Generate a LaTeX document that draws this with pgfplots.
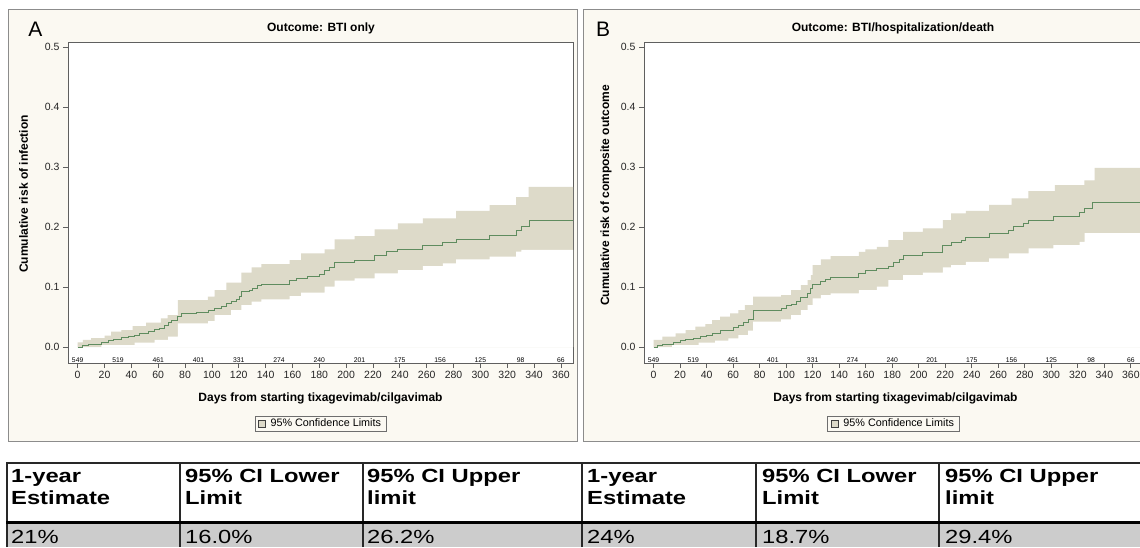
\documentclass[border=0pt]{standalone}
\usepackage{fontspec}
\setmainfont{Liberation Sans}
\newfontfamily\tabfont[FakeStretch=1.25]{Liberation Sans}
\usepackage{pgfplots}
\pgfplotsset{compat=1.18}
\definecolor{cream}{RGB}{251,249,242}
\definecolor{bandcol}{RGB}{221,218,201}
\definecolor{linecol}{RGB}{95,140,95}
\definecolor{axiscol}{RGB}{95,95,95}
\definecolor{framecol}{RGB}{140,140,140}
\definecolor{legcol}{RGB}{110,110,110}
\definecolor{tabgray}{RGB}{204,204,204}
\definecolor{tabline}{RGB}{40,40,40}
\newcommand\atriskfont{\fontsize{6.8}{7}\selectfont}
\pgfplotsset{
  kmaxis/.style={
    scale only axis, width=505pt, height=320.3pt,
    xmin=-7.2, xmax=369, ymin=-0.0267, ymax=0.5077,
    xtick={0,20,...,360}, ytick={0,0.1,0.2,0.3,0.4,0.5},
    tick align=outside, xtick pos=left, ytick pos=left,
    major tick length=5pt,
    axis line style={axiscol, line width=0.9pt},
    major tick style={axiscol, line width=0.8pt},
    tick label style={font=\fontsize{10.5}{12}\selectfont, text=black!85},
    /pgf/number format/assume math mode=true,
    yticklabel style={/pgf/number format/fixed, /pgf/number format/fixed zerofill, /pgf/number format/precision=1},
    xticklabel style={/pgf/number format/fixed},
    axis background/.style={fill=white},
    legend style={at={(0.5,-0.189)}, anchor=center, draw=legcol, fill=cream,
      font=\fontsize{10.8}{12}\selectfont, inner xsep=3pt, inner ysep=0.8pt, line width=0.8pt,
      /tikz/every odd column/.append style={column sep=3pt}},
    legend cell align=left,
  }
}
\begin{document}
\begin{tikzpicture}
\begin{scope}
\clip (0,0) rectangle (1140pt,547pt);
\fill[white] (0,0) rectangle (1140pt,547pt);
\draw[framecol, fill=cream, line width=1pt] (8pt,106pt) rectangle (577pt,537pt);
\draw[framecol, fill=cream, line width=1pt] (583pt,106pt) rectangle (1150pt,537pt);

\node[font=\fontsize{21}{24}\selectfont] at (35.5pt,517.5pt) {A};
\node[font=\fontsize{21}{24}\selectfont] at (603pt,517.5pt) {B};
\node[font=\bfseries\fontsize{12}{14}\selectfont] at (321pt,518.5pt) {Outcome: BTI only};
\node[font=\bfseries\fontsize{12}{14}\selectfont] at (893pt,518.5pt) {Outcome: BTI/hospitalization/death};
\node[rotate=90, font=\bfseries\fontsize{12}{14}\selectfont] at (23.5pt,353pt) {Cumulative risk of infection};
\node[rotate=90, font=\bfseries\fontsize{12}{14}\selectfont] at (606pt,351.5pt) {Cumulative risk of composite outcome};
\node[font=\bfseries\fontsize{12}{14}\selectfont] at (320.5pt,149pt) {Days from starting tixagevimab/cilgavimab};
\node[font=\bfseries\fontsize{12}{14}\selectfont] at (895.5pt,149pt) {Days from starting tixagevimab/cilgavimab};

% ---------------- Panel A
\begin{axis}[kmaxis, at={(68pt,184pt)}, anchor=south west]
\addlegendimage{legend image code/.code={\draw[fill=bandcol, draw=black!75, line width=0.6pt] (0pt,-3.5pt) rectangle (7pt,3.5pt);}}
\addlegendentry{95\% Confidence Limits}
% upper confidence limit (filled down to 0)
\addplot[fill=bandcol, draw=none, const plot, forget plot] coordinates {
(0,0.0078) (3.9,0.0117) (10,0.015) (20,0.019) (25,0.0256) (32.5,0.0283) (41,0.035) (51,0.0406)
(62,0.0478) (67,0.0533) (74.7,0.0783) (97,0.0839) (102,0.095) (110.7,0.1072) (121.9,0.1239)
(129.5,0.1328) (136.8,0.1383) (157.9,0.145) (166.5,0.1561) (183.9,0.1628) (191.4,0.1794)
(206.3,0.185) (221.2,0.1961) (238.6,0.2061) (257.2,0.2144) (282,0.2272) (306.8,0.2367)
(326.7,0.250) (336,0.267) (369,0.267)} \closedcycle;
% lower confidence limit (white below it)
\addplot[fill=white, draw=none, const plot, forget plot] coordinates {
(0,0) (17.6,0.0033) (42.4,0.0072) (57.3,0.0117) (67.3,0.0172) (74.7,0.0394) (97.1,0.0433)
(102,0.0533) (114.4,0.0617) (121.9,0.07) (129.5,0.0756) (136.8,0.0794) (157.9,0.085)
(166.5,0.0906) (183.9,0.1006) (191.4,0.1106) (206.3,0.1144) (221.2,0.1228) (238.6,0.1283)
(257.2,0.135) (272.1,0.1394) (282,0.1461) (306.8,0.1506) (326.7,0.159) (330.5,0.162) (369,0.162)} \closedcycle;
\addplot[linecol, const plot, line width=1pt, forget plot] coordinates {
(0,0) (3.9,0.0022) (7.7,0.005) (17.6,0.0072) (22.6,0.0111) (26.4,0.0128) (32.5,0.0156)
(37.5,0.0172) (42.4,0.0194) (46.2,0.0228) (52.4,0.0256) (57.3,0.0294) (61.0,0.0317)
(64.8,0.0367) (67.3,0.0406) (69.7,0.0439) (74.7,0.0506) (77.2,0.0556) (88.4,0.0572)
(97.1,0.0606) (102.0,0.0644) (107.0,0.0683) (110.7,0.0722) (114.4,0.0761) (118.2,0.0789)
(120.6,0.085) (121.9,0.0922) (128.1,0.095) (130.6,0.0978) (134.3,0.1022) (136.8,0.1044)
(157.9,0.1106) (162.9,0.1144) (171.5,0.1172) (180.2,0.1211) (183.9,0.1272) (187.7,0.1328)
(191.4,0.1411) (206.3,0.145) (221.2,0.1533) (229.9,0.1589) (238.6,0.1628) (257.2,0.1689)
(272.1,0.1739) (282.0,0.1794) (306.8,0.1856) (326.7,0.1939) (330.5,0.2017) (336.7,0.2106)
(369,0.2106)};
\node[font=\atriskfont] at (axis cs:0,-0.0217) {549};
\node[font=\atriskfont] at (axis cs:30,-0.0217) {519};
\node[font=\atriskfont] at (axis cs:60,-0.0217) {461};
\node[font=\atriskfont] at (axis cs:90,-0.0217) {401};
\node[font=\atriskfont] at (axis cs:120,-0.0217) {331};
\node[font=\atriskfont] at (axis cs:150,-0.0217) {274};
\node[font=\atriskfont] at (axis cs:180,-0.0217) {240};
\node[font=\atriskfont] at (axis cs:210,-0.0217) {201};
\node[font=\atriskfont] at (axis cs:240,-0.0217) {175};
\node[font=\atriskfont] at (axis cs:270,-0.0217) {156};
\node[font=\atriskfont] at (axis cs:300,-0.0217) {125};
\node[font=\atriskfont] at (axis cs:330,-0.0217) {98};
\node[font=\atriskfont] at (axis cs:360,-0.0217) {66};
\end{axis}

% ---------------- Panel B
\begin{axis}[kmaxis, width=498.8pt, at={(644pt,184pt)}, anchor=south west]
\addlegendimage{legend image code/.code={\draw[fill=bandcol, draw=black!75, line width=0.6pt] (0pt,-3.5pt) rectangle (7pt,3.5pt);}}
\addlegendentry{95\% Confidence Limits}
\addplot[fill=bandcol, draw=none, const plot, forget plot] coordinates {
(0,0.0117) (6.7,0.0172) (16.7,0.0228) (24.2,0.0283) (31.6,0.0339) (39.1,0.0383) (44.1,0.045)
(50.3,0.0506) (57.7,0.0561) (63.9,0.0617) (68.9,0.07) (75.1,0.0839) (96.3,0.0867) (103.8,0.095)
(111.2,0.1033) (116.2,0.1117) (118.7,0.12) (119.9,0.1367) (126.1,0.1461) (133.6,0.1517)
(154.8,0.1589) (159.7,0.1628) (168.4,0.1672) (177.1,0.1783) (188.3,0.1922) (203.2,0.1978)
(218.2,0.2117) (224.4,0.2228) (235.6,0.227) (253,0.237) (270,0.248) (282.6,0.26) (302.7,0.27)
(325,0.278) (332.6,0.299) (369,0.299)} \closedcycle;
\addplot[fill=white, draw=none, const plot, forget plot] coordinates {
(0,0) (14,0.0033) (34,0.0072) (46.5,0.0106) (56.5,0.0144) (63.9,0.02) (71.4,0.0272) (75.1,0.0422)
(96.3,0.0461) (103.8,0.0533) (111.2,0.0617) (116.2,0.07) (119.9,0.0811) (126.1,0.0867)
(133.6,0.0894) (154.8,0.095) (168.4,0.1006) (177.1,0.1117) (188.3,0.12) (203.2,0.1239)
(218.2,0.1328) (224.4,0.1367) (235.6,0.1422) (253,0.1478) (267.9,0.1561) (282.9,0.1644)
(301.5,0.17) (321.4,0.1756) (325.1,0.19) (369,0.19)} \closedcycle;
\addplot[linecol, const plot, line width=1pt, forget plot] coordinates {
(0,0) (3.0,0.0022) (6.7,0.005) (15.4,0.0072) (20.4,0.0106) (24.2,0.0133) (30.4,0.015)
(35.3,0.0172) (40.3,0.02) (44.1,0.0233) (50.3,0.0267) (56.5,0.0283) (60.2,0.0322)
(63.9,0.0356) (67.7,0.0406) (71.4,0.0461) (75.1,0.0611) (96.3,0.0644) (100.0,0.0689)
(103.8,0.0717) (107.5,0.0756) (111.2,0.0822) (116.2,0.0894) (118.7,0.0978) (119.9,0.1044)
(126.1,0.1089) (129.9,0.1128) (133.6,0.1167) (154.8,0.1228) (159.7,0.1272) (168.4,0.1306)
(177.1,0.1339) (180.9,0.1406) (185.8,0.1467) (188.3,0.1533) (203.2,0.1572) (218.2,0.1694)
(224.4,0.1739) (231.9,0.1783) (235.6,0.1828) (253.0,0.1894) (267.9,0.195) (271.7,0.2006)
(279.1,0.2061) (282.9,0.2106) (301.5,0.2183) (321.4,0.2244) (325.1,0.2311) (331.4,0.2406)
(369,0.2406)};
\node[font=\atriskfont] at (axis cs:0,-0.0217) {549};
\node[font=\atriskfont] at (axis cs:30,-0.0217) {519};
\node[font=\atriskfont] at (axis cs:60,-0.0217) {461};
\node[font=\atriskfont] at (axis cs:90,-0.0217) {401};
\node[font=\atriskfont] at (axis cs:120,-0.0217) {331};
\node[font=\atriskfont] at (axis cs:150,-0.0217) {274};
\node[font=\atriskfont] at (axis cs:180,-0.0217) {240};
\node[font=\atriskfont] at (axis cs:210,-0.0217) {201};
\node[font=\atriskfont] at (axis cs:240,-0.0217) {175};
\node[font=\atriskfont] at (axis cs:270,-0.0217) {156};
\node[font=\atriskfont] at (axis cs:300,-0.0217) {125};
\node[font=\atriskfont] at (axis cs:330,-0.0217) {98};
\node[font=\atriskfont] at (axis cs:360,-0.0217) {66};
\end{axis}

% ---------------- Table
\fill[tabgray] (7pt,0pt) rectangle (1140pt,25pt);
\draw[tabline, line width=1.5pt] (7pt,84pt) -- (1140pt,84pt);
\foreach \cx in {7,180,363,582,756,939} {
  \draw[tabline, line width=1.5pt] (\cx pt,0pt) -- (\cx pt,84.75pt);
}
\draw[black, line width=3pt] (6.25pt,25pt) -- (1140pt,25pt);
\begin{scope}[every node/.style={anchor=base west, inner sep=0pt}]
\foreach \cx/\la/\lb in {11/1-year/Estimate, 185/95\% CI Lower/Limit, 367/95\% CI Upper/limit,
                        587/1-year/Estimate, 762/95\% CI Lower/Limit, 945/95\% CI Upper/limit} {
  \node[font=\tabfont\bfseries\fontsize{19}{22}\selectfont] at (\cx pt,64.3pt) {\la};
  \node[font=\tabfont\bfseries\fontsize{19}{22}\selectfont] at (\cx pt,43pt) {\lb};
}
\foreach \cx/\v in {11/21\%, 185/16.0\%, 367/26.2\%, 587/24\%, 762/18.7\%, 945/29.4\%} {
  \node[font=\tabfont\fontsize{19}{22}\selectfont] at (\cx pt,3.7pt) {\v};
}
\end{scope}
\end{scope}
\pgfresetboundingbox
\path[use as bounding box] (0,0) rectangle (1140pt,547pt);
\end{tikzpicture}
\end{document}
